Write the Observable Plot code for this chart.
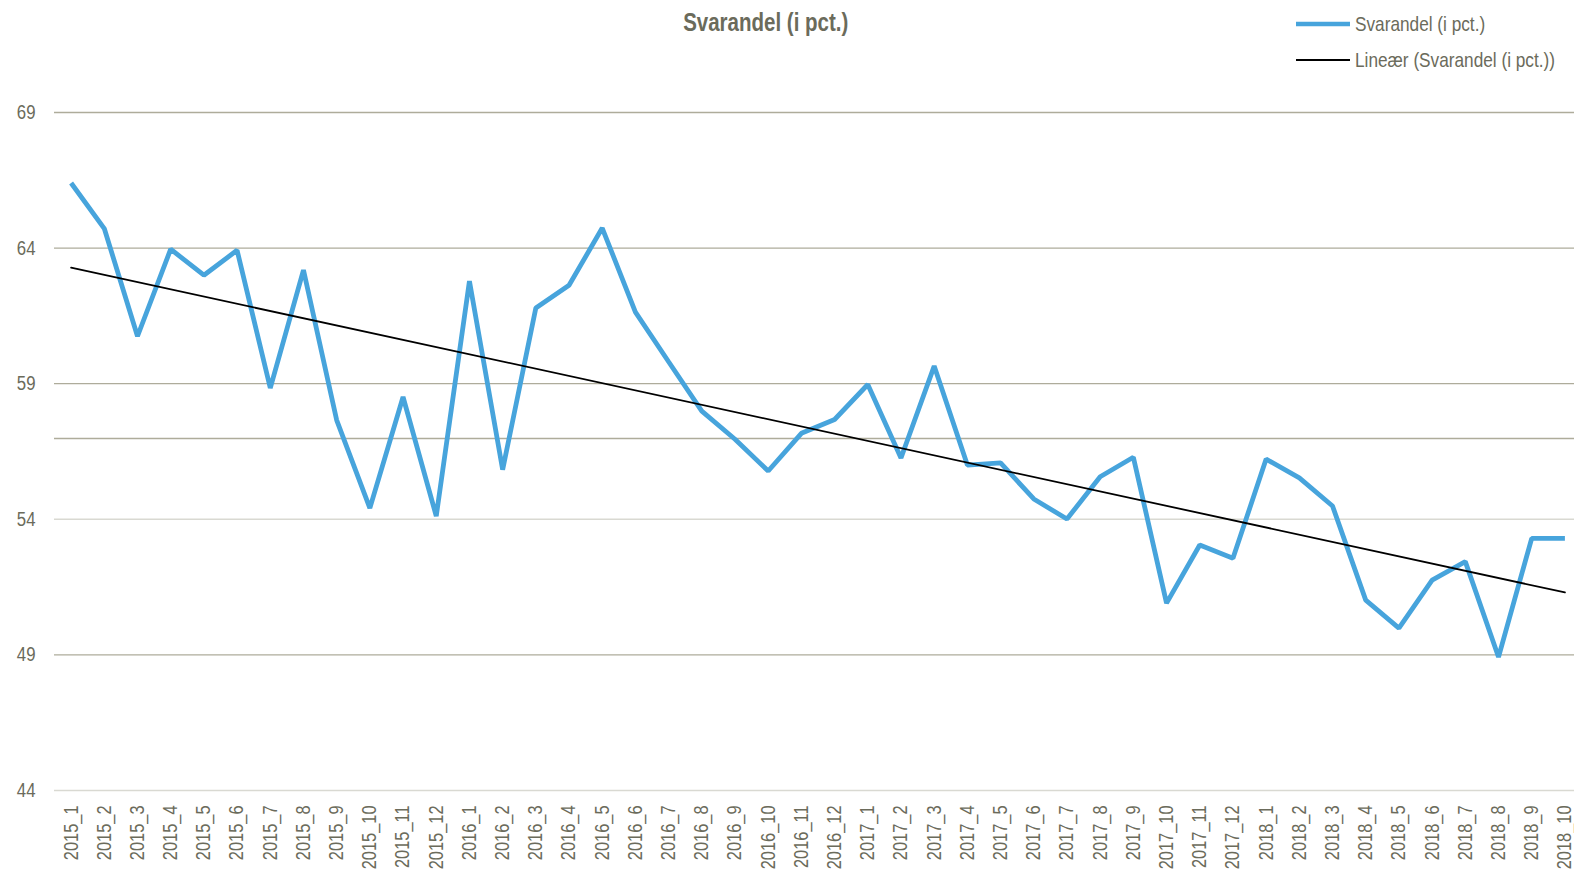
<!DOCTYPE html>
<html>
<head>
<meta charset="utf-8">
<script src="https://cdn.jsdelivr.net/npm/d3@7"></script>
<script src="https://cdn.jsdelivr.net/npm/@observablehq/plot@0.6"></script>
<style>
  body { margin: 0; background: #fff; overflow: hidden; }
  #wrap { position: relative; width: 1574px; height: 872px; overflow: hidden; }
  #title { position: absolute; left: 0; width: 1532px; top: 8px; text-align: center; }
  #title span { display: inline-block; transform: scaleX(0.82); transform-origin: center;
    font: bold 25px "Liberation Sans", Arial, sans-serif; color: #6b6b5b; white-space: nowrap; }
  #legend { position: absolute; left: 1296px; top: 6px;
    font: 21px "Liberation Sans", Arial, sans-serif; color: #6b6b5b; }
  .row { display: flex; align-items: center; height: 36px; white-space: nowrap; }
  .sw { width: 54px; margin-right: 5px; flex: none; }
  .row span { display: inline-block; transform: scaleX(0.82); transform-origin: left center; }
  #chart { position: absolute; left: 0; top: 0; }
</style>
</head>
<body>
<div id="wrap">
  <div id="chart"></div>
  <div id="title"><span></span></div>
  <div id="legend"></div>
</div>
<script>
const categories = [
  "2015_1","2015_2","2015_3","2015_4","2015_5","2015_6","2015_7","2015_8","2015_9","2015_10","2015_11","2015_12",
  "2016_1","2016_2","2016_3","2016_4","2016_5","2016_6","2016_7","2016_8","2016_9","2016_10","2016_11","2016_12",
  "2017_1","2017_2","2017_3","2017_4","2017_5","2017_6","2017_7","2017_8","2017_9","2017_10","2017_11","2017_12",
  "2018_1","2018_2","2018_3","2018_4","2018_5","2018_6","2018_7","2018_8","2018_9","2018_10"
];
const svarandel = [
  66.40, 64.72, 60.75, 63.96, 63.00, 63.92, 58.84, 63.19, 57.66, 54.41, 58.51, 54.12,
  62.78, 55.83, 61.79, 62.63, 64.74, 61.64, 59.81, 57.99, 56.95, 55.78, 57.17, 57.68,
  58.97, 56.26, 59.65, 56.00, 56.08, 54.75, 54.01, 55.57, 56.29, 50.91, 53.05, 52.56,
  56.22, 55.53, 54.49, 51.02, 49.99, 51.76, 52.44, 48.92, 53.30, 53.30
];
const yTicks = [44, 49, 54, 59, 64, 69];
const gridDark = [49, 59, 64, 69];
const gridLight = [44, 54];
const extraLine = [56.98];
const titleText = "Svarandel (i pct.)";
const seriesNames = ["Svarandel (i pct.)", "Lineær (Svarandel (i pct.))"];

const data = svarandel.map((v, i) => ({i, v, label: categories[i]}));
const font = '"Liberation Sans", Arial, sans-serif';
const blue = "#47a4dc";

const chart = Plot.plot({
  width: 1574,
  height: 872,
  marginTop: 112,
  marginBottom: 82,
  marginLeft: 54,
  marginRight: -7,
  style: {fontFamily: font, fontSize: "20px", color: "#6b6b5b", background: "transparent"},
  x: {type: "linear", domain: [-0.5, categories.length - 0.5], axis: null},
  y: {domain: [44, 69], axis: null},
  marks: [
    Plot.ruleY(gridLight, {stroke: "#d9d9d2", strokeWidth: 1.5}),
    Plot.ruleY(gridDark, {stroke: "#aeac9b", strokeWidth: 1.3}),
    Plot.ruleY(extraLine, {stroke: "#aeac9b", strokeWidth: 1.3}),
    Plot.axisY(yTicks, {tickSize: 0, tickPadding: 19, fontSize: 20.5, label: null}),
    Plot.axisX(d3.range(categories.length), {
      tickSize: 0, tickPadding: 15, tickRotate: -90, fontSize: 20, label: null,
      tickFormat: i => categories[i]
    }),
    Plot.line(data, {x: "i", y: "v", stroke: blue, strokeWidth: 4.8, strokeLinejoin: "miter", strokeLinecap: "butt"}),
    Plot.linearRegressionY(data, {x: "i", y: "v", stroke: "#000", strokeWidth: 1.8, ci: 0})
  ]
});
document.getElementById("chart").appendChild(chart);

// narrow the tick labels (Arial Narrow look)
chart.querySelectorAll('g[aria-label="y-axis tick label"] text, g[aria-label="x-axis tick label"] text').forEach(t => {
  const tr = t.getAttribute("transform") || "";
  t.setAttribute("transform", tr + " scale(0.82,1)");
});

document.querySelector("#title span").textContent = titleText;
const legend = document.getElementById("legend");
const swatches = [{c: blue, w: 4.5}, {c: "#000", w: 2}];
seriesNames.forEach((name, k) => {
  const row = document.createElement("div");
  row.className = "row";
  row.innerHTML = `<svg class="sw" width="54" height="10"><line x1="0" x2="54" y1="5" y2="5" stroke="${swatches[k].c}" stroke-width="${swatches[k].w}"/></svg><span></span>`;
  row.querySelector("span").textContent = name;
  legend.appendChild(row);
});
</script>
</body>
</html>
